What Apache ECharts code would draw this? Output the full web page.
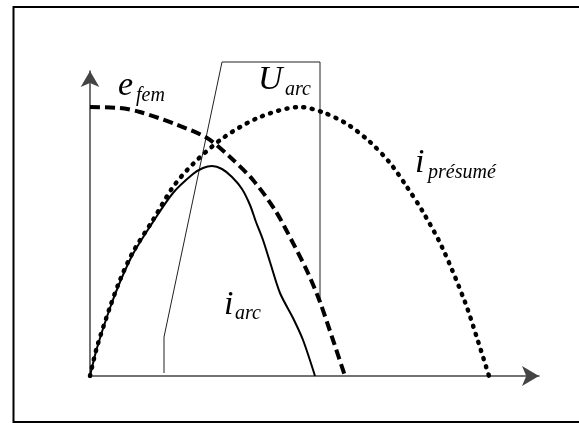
<!DOCTYPE html>
<html>
<head>
<meta charset="utf-8">
<script src="https://cdn.jsdelivr.net/npm/echarts@6/dist/echarts.min.js"></script>
<style>
html, body { margin: 0; padding: 0; background: #fff; }
#chart { width: 579px; height: 423px; }
</style>
</head>
<body>
<div id="chart"></div>
<script>
// units are pixels measured from the origin of the sketch (x right, y up)
const efemX = [0, 30, 50, 85, 117, 140, 163, 185, 203, 218, 230, 243, 255];
const efemY = [269, 268, 264, 252, 238, 219, 196, 166, 133, 103, 74, 36, 0];

const iPresX = [0, 7, 20, 30, 43, 63, 83, 103, 133, 170, 210, 232, 257, 280, 300, 317, 333, 352, 375, 387, 399];
const iPresY = [0, 29, 69, 96, 124, 156, 189, 212, 238, 259, 269, 264, 252, 234, 213, 189, 164, 129, 74, 38, 0];

const iArcX = [0, 7, 20, 30, 43, 63, 83, 103, 113, 122, 132, 142, 152, 160, 166, 173, 180, 190, 203, 213, 225];
const iArcY = [0, 28, 68, 94, 122, 154, 183, 202, 208, 210, 207, 199, 187, 171, 154, 136, 114, 83, 58, 36, 0];

const uArcX = [74, 74, 132, 230, 230];
const uArcY = [3, 39, 314, 314, 76];

const pairs = (xs, ys) => xs.map((x, i) => [x, ys[i]]);

const label = (text, x, y, size) => ({
  type: 'text',
  x: x,
  y: y,
  style: {
    text: text,
    font: 'italic ' + size + 'px "Liberation Serif", serif',
    fill: '#000',
    verticalAlign: 'middle',
  },
});

const axisStyle = { color: '#444', width: 1.5 };

const option = {
  animation: false,
  backgroundColor: '#fff',
  grid: {
    left: 90,
    top: 71,
    width: 449,
    height: 305,
    outerBoundsMode: 'none',
  },
  xAxis: {
    type: 'value',
    min: 0,
    max: 449,
    axisLine: { show: true, symbol: ['none', 'arrow'], symbolSize: [15, 17], lineStyle: axisStyle },
    axisTick: { show: false },
    axisLabel: { show: false },
    splitLine: { show: false },
  },
  yAxis: {
    type: 'value',
    min: 0,
    max: 305,
    axisLine: { show: true, symbol: ['none', 'arrow'], symbolSize: [14, 16], lineStyle: axisStyle },
    axisTick: { show: false },
    axisLabel: { show: false },
    splitLine: { show: false },
  },
  series: [
    {
      name: 'Uarc',
      type: 'line',
      data: pairs(uArcX, uArcY),
      showSymbol: false,
      clip: false,
      lineStyle: { color: '#222', width: 1 },
    },
    {
      name: 'ipresume',
      type: 'line',
      data: pairs(iPresX, iPresY),
      showSymbol: false,
      smooth: 0.3,
      lineStyle: { color: '#000', width: 4.5, type: [1, 7.5], cap: 'round' },
    },
    {
      name: 'iarc',
      type: 'line',
      data: pairs(iArcX, iArcY),
      showSymbol: false,
      smooth: 0.3,
      lineStyle: { color: '#000', width: 2 },
    },
    {
      name: 'efem',
      type: 'line',
      data: pairs(efemX, efemY),
      showSymbol: false,
      smooth: 0.3,
      lineStyle: { color: '#000', width: 4, type: [10, 5] },
    },
  ],
  graphic: [
    {
      type: 'rect',
      shape: { x: 13.5, y: 7, width: 572, height: 415 },
      style: { fill: 'none', stroke: '#000', lineWidth: 2 },
    },
    label('e', 118, 86, 34),
    label('fem', 136, 96, 20),
    label('U', 258, 80, 34),
    label('arc', 285, 90, 20),
    label('i', 415, 163, 34),
    label('présumé', 428, 173, 20),
    label('i', 224, 305, 34),
    label('arc', 235, 314, 20),
  ],
};

const chart = echarts.init(document.getElementById('chart'), null, { renderer: 'canvas' });
chart.setOption(option);
</script>
</body>
</html>
